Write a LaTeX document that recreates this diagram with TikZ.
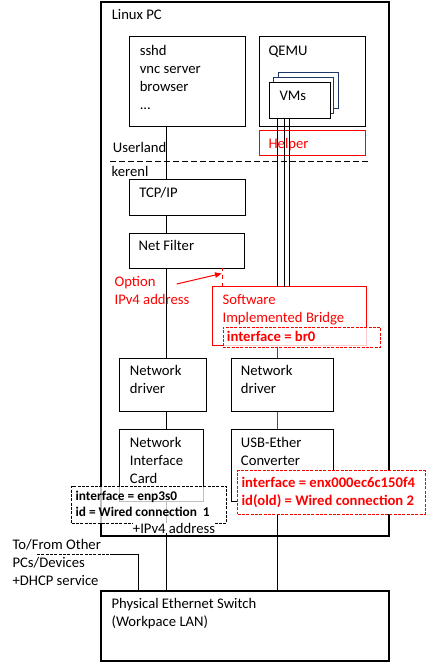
\documentclass[tikz,border=0pt]{standalone}
\usepackage{fontspec}
\setmainfont{Carlito}
\usepackage{tikz}
\usetikzlibrary{fit,arrows.meta,positioning}
\definecolor{vmnavy}{RGB}{31,56,100}
\newcommand{\fsnorm}{\fontsize{11pt}{13.5pt}\selectfont}
\newcommand{\fssmall}{\fontsize{10pt}{11.8pt}\selectfont}
\tikzset{
  box/.style={draw, line width=0.75pt, inner sep=0pt, outer sep=0pt},
  thickbox/.style={draw, line width=1.5pt, inner sep=0pt, outer sep=0pt},
  redbox/.style={draw=red, line width=0.75pt, inner sep=0pt, outer sep=0pt},
  vmbox/.style={draw=vmnavy, fill=white, line width=0.75pt, inner sep=0pt, outer sep=0pt},
  tagbox/.style={fill=white, line width=0.75pt, inner sep=0pt, outer sep=0pt, dash pattern=on 2.25pt off 1pt},
  lbl/.style={anchor=base west, inner sep=0pt, align=left, font=\fsnorm},
  wire/.style={line width=0.75pt},
}
\begin{document}
\begin{tikzpicture}[x=0.75pt,y=-0.75pt]
  \useasboundingbox (0,0) rectangle (426,662);

  \coordinate (lx) at (166.5,0);
  \coordinate (vx1) at (277.5,0);
  \coordinate (vx2) at (284,0);
  \coordinate (vx3) at (289.5,0);
  \coordinate (dx) at (222.3,0);

  \node[thickbox, fit={(101,1.5) (389,536)}] (pc) {};
  \node[lbl] (pctxt) at (111.5,19.3) {Linux PC};

  \node[box, fit={(129.5,36.5) (245.5,126)}] (apps) {};
  \node[lbl] (appstxt) at (139.5,109) {sshd\\vnc server\\browser\\...};

  \node[box, fit={(259.5,36.5) (365.5,126)}] (qemu) {};
  \node[lbl] (qemutxt) at (268.3,55) {QEMU};
  \node[vmbox, fit={(278,72) (338,108)}] (vmc) {};
  \node[vmbox, fit={(273.5,77.5) (333,113)}] (vmb) {};
  \node[box, fill=white, fit={(269.5,82.5) (330.5,118)}] (vma) {};
  \node[lbl] (vmtxt) at (279.3,100.7) {VMs};

  \node[redbox, fit={(259.5,130.5) (365.5,155)}] (helper) {};
  \node[lbl, red] (helpertxt) at (268.3,148.3) {Helper};

  \node[lbl] (usertxt) at (112.7,152.7) {Userland};
  \node[lbl] (kerntxt) at (111.3,176.7) {kerenl};
  \coordinate (sepl) at (110,161.5);
  \coordinate (sepr) at (371,161.5);
  \draw[wire, dash pattern=on 4.5pt off 2.25pt] (sepl) -- (sepr);

  \node[box, fit={(129.5,179.5) (245.5,215)}] (tcp) {};
  \node[lbl] (tcptxt) at (139,197.3) {TCP/IP};

  \node[box, fit={(129.5,233.3) (244.5,268.3)}] (nf) {};
  \node[lbl] (nftxt) at (138.3,250.7) {Net Filter};

  \node[lbl, red] (opttxt) at (114.3,304) {Option\\IPv4 address};
  \node[redbox, fit={(212.5,286.7) (366.5,345.7)}] (br) {};
  \node[lbl, red] (brtxt) at (222.3,322.3) {Software\\Implemented Bridge};

  \node[box, fit={(119.5,358.3) (206.5,411.7)}] (drvl) {};
  \node[lbl] (drvltxt) at (129.7,393.7) {Network\\driver};
  \node[box, fit={(231.5,358.3) (333.5,411.7)}] (drvr) {};
  \node[lbl] (drvrtxt) at (240.7,393.7) {Network\\driver};

  \node[box, fit={(119.5,429.3) (203.5,501)}] (nic) {};
  \node[lbl] (nictxt) at (129.7,483.7) {Network\\Interface\\Card};
  \node[box, fit={(231.5,429.3) (333.5,501.7)}] (usb) {};
  \node[lbl] (usbtxt) at (240.7,465.7) {USB-Ether\\Converter};

  \node[thickbox, fit={(101,590.7) (389,661)}] (sw) {};
  \node[lbl] (swtxt) at (111.3,626.3) {Physical Ethernet Switch\\(Workpace LAN)};
  \node[lbl] (othtxt) at (12.3,585) {To/From Other\\PCs/Devices\\+DHCP service};

  \draw[wire] (apps.south -| lx) -- (tcp.north -| lx);
  \draw[wire] (tcp.south -| lx) -- (nf.north -| lx);
  \draw[wire] (nf.south -| lx) -- (drvl.north -| lx);
  \draw[wire] (drvl.south -| lx) -- (nic.north -| lx);
  \draw[wire] (nic.south -| lx) -- (sw.north -| lx);
  \foreach \v in {vx1,vx2,vx3}
    \draw[wire] (vma.south -| \v) -- (br.north -| \v);
  \draw[wire, red, dashed] (br.north -| dx) -- (nf.south -| dx);
  \coordinate (arrs) at (176.7,284);
  \coordinate (arre) at (221.7,273.5);
  \draw[wire, red, -{Triangle[length=5pt,width=4pt]}] (arrs) -- (arre);
  \draw[wire, red] (br.south -| vx1) -- (drvr.north -| vx1);
  \draw[wire, red] (drvr.south -| vx1) -- (usb.north -| vx1);
  \draw[wire] (usb.south -| vx1) -- (sw.north -| vx1);
  \coordinate (oth1) at (37,554.3);
  \coordinate (oth2) at (110,554.3);
  \coordinate (oth3) at (138,554.3);
  \draw[wire, dash pattern=on 2.25pt off 1pt] (oth1) -- (oth2);
  \draw[wire] (oth2) -- (oth3) -- (sw.north -| oth3);

  \node[tagbox, draw=red, fill opacity=0.8, fit={(223,327.3) (380.5,347.3)}] (brtag) {};
  \node[lbl, red, font=\fsnorm\bfseries] (brtagtxt) at (226.7,341.7) {interface = br0};
  \node[tagbox, draw, fill opacity=0.75, fit={(71.5,486) (226.5,523.3)}] (nictag) {};
  \node[lbl, font=\fssmall\bfseries] (nictagtxt) at (75.3,516.7) {interface = enp3s0\\id = Wired connection\ \ 1};
  \node[tagbox, draw=red, fit={(237.5,470.7) (425,514)}] (usbtag) {};
  \node[lbl, red, font=\fsnorm\bfseries] (usbtagtxt) at (241.3,505.3) {interface = enx000ec6c150f4\\id(old) = Wired connection 2};
  \node[lbl, fill=white] (ipv4txt) at (132.7,533.3) {+IPv4 address};
\end{tikzpicture}
\end{document}
